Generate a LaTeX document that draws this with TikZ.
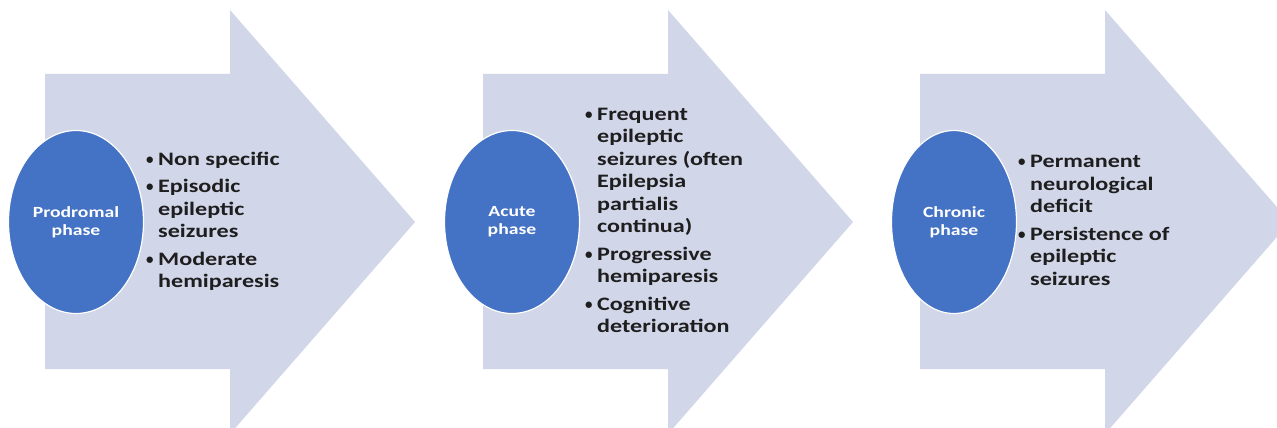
\documentclass[tikz,border=0pt]{standalone}
\usepackage{fontspec}
\setmainfont{Carlito}[FakeStretch=1.27]
\usetikzlibrary{shapes.geometric}
\definecolor{arrowfill}{HTML}{D1D6E9}
\definecolor{ovalblue}{HTML}{4472C4}
\definecolor{txt}{HTML}{1E1E1E}
\newcommand\bl{\makebox[12pt][l]{\raisebox{1pt}{\scalebox{0.62}[0.8]{•}}}}
\tikzset{
  phasearrow/.style={fill=arrowfill, draw=none},
  phaseoval/.style={ellipse, fill=ovalblue, draw=white, line width=1.2pt, inner sep=0pt,
    minimum height=183pt, align=center, text=white,
    font=\fontsize{15.5}{18}\selectfont\bfseries},
  bullets/.style={anchor=west, inner sep=0pt, text=txt,
    font=\fontsize{19}{22.5}\selectfont\bfseries},
}
\begin{document}
\begin{tikzpicture}[x=1pt,y=-1pt]
\useasboundingbox (0,0) rectangle (1277,428);
\clip (0,0) rectangle (1277,428);
\fill[white] (0,0) rectangle (1277,428);
\foreach \x in {45,483,920}{
  \fill[phasearrow] (\x,74) -- ++(185,0) -- ++(0,-64) -- ++(185,212)
    -- ++(-185,212) -- ++(0,-65) -- ++(-185,0) -- cycle;
}
\node[phaseoval, minimum width=135pt] (p1) at (76,222) {Prodromal\\phase};
\node[phaseoval, minimum width=135pt] (p2) at (512,222) {Acute\\phase};
\node[phaseoval, minimum width=125pt] (p3) at (954,222) {Chronic\\phase};
\node[bullets] (b1) at (146,222) {\begin{tabular}{@{}l@{}l@{}}
\bl & Non specific\\[5pt]
\bl & Episodic\\
 & epileptic\\
 & seizures\\[5pt]
\bl & Moderate\\
 & hemiparesis
\end{tabular}};
\node[bullets] (b2) at (585,222) {\begin{tabular}{@{}l@{}l@{}}
\bl & Frequent\\
 & epileptic\\
 & seizures (often\\
 & Epilepsia\\
 & partialis\\
 & continua)\\[5pt]
\bl & Progressive\\
 & hemiparesis\\[5pt]
\bl & Cognitive\\
 & deterioration
\end{tabular}};
\node[bullets] (b3) at (1018,222) {\begin{tabular}{@{}l@{}l@{}}
\bl & Permanent\\
 & neurological\\
 & deficit\\[5pt]
\bl & Persistence of\\
 & epileptic\\
 & seizures
\end{tabular}};
\end{tikzpicture}
\end{document}
